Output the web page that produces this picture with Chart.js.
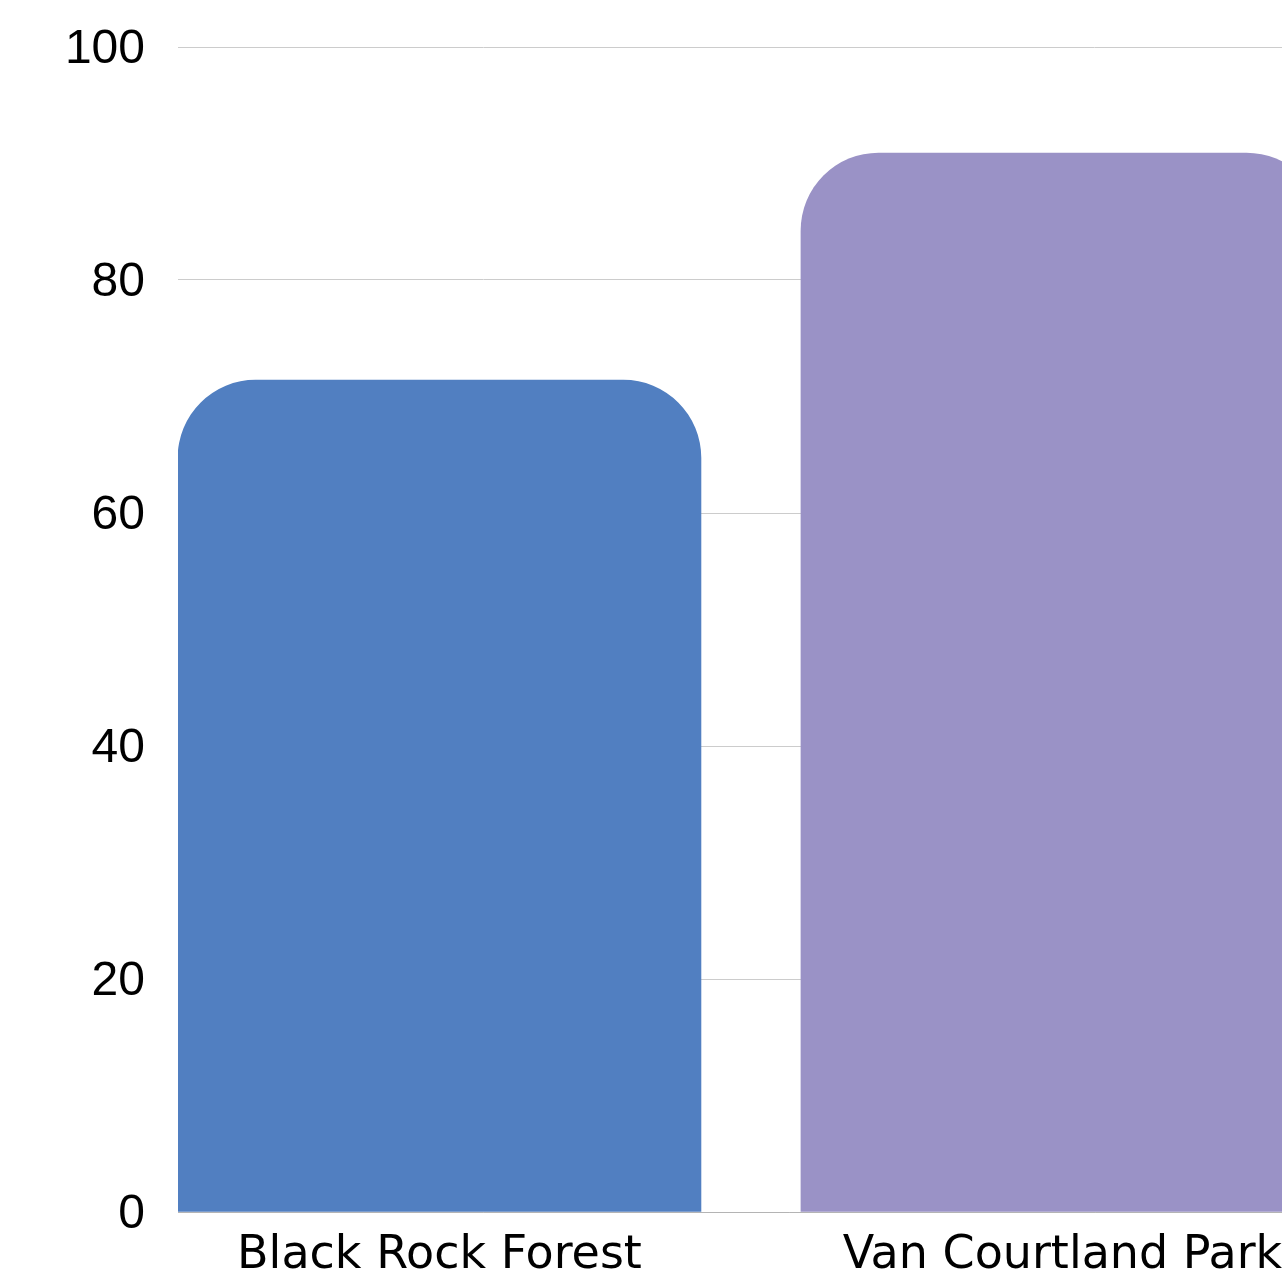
<!DOCTYPE html>
<html>
<head>
<meta charset="utf-8">
<script src="https://cdn.jsdelivr.net/npm/chart.js@4/dist/chart.umd.min.js"></script>
<style>
  html, body { margin: 0; padding: 0; background: #fff; overflow: hidden; }
  #wrap { width: 1400px; height: 1280px; }
</style>
</head>
<body>
<div id="wrap"><canvas id="chart" width="1400" height="1280"></canvas></div>
<script>
// ====== DADOS ======
const categories = ["Black Rock Forest", "Van Courtland Park"];
const positions = [0, 1];
const values = [71.4, 90.9];
const barColors = ["#517fc1", "#9a92c6"];
const yTicks = [0, 20, 40, 60, 80, 100];

const ctx = document.getElementById("chart");
new Chart(ctx, {
  type: "bar",
  data: {
    datasets: [
      {
        data: positions.map((p, i) => ({ x: p, y: values[i] })),
        backgroundColor: barColors,
        borderWidth: 0,
        borderSkipped: "bottom",
        borderRadius: { topLeft: 78, topRight: 78, bottomLeft: 0, bottomRight: 0 },
        barThickness: 523,
      },
    ],
  },
  options: {
    responsive: false,
    animation: false,
    layout: { padding: { top: 47, left: 0, right: 0, bottom: 0 } },
    plugins: { legend: { display: false }, tooltip: { enabled: false } },
    scales: {
      x: {
        type: "linear",
        offset: false,
        min: -0.4197,
        max: 1.5418,
        grid: { display: false, offset: false },
        border: { display: true, color: "#b4b4b4", width: 1 },
        afterBuildTicks: (scale) => {
          scale.ticks = positions.map((p) => ({ value: p }));
        },
        afterFit: (scale) => {
          scale.height = 68;
        },
        ticks: {
          autoSkip: false,
          maxRotation: 0,
          minRotation: 0,
          padding: 8,
          color: "#000",
          font: { family: "DejaVu Sans", size: 46 },
          callback: (v) => categories[positions.indexOf(v)],
        },
      },
      y: {
        min: 0,
        max: 100,
        afterBuildTicks: (scale) => {
          scale.ticks = yTicks.map((v) => ({ value: v }));
        },
        afterFit: (scale) => {
          scale.width = 178;
          // sem folga extra em cima, a area do grafico comeca no 100
          scale.paddingTop = 0;
          scale.paddingBottom = 0;
        },
        grid: { color: "#cccccc", lineWidth: 1, drawTicks: false },
        border: { display: false },
        ticks: {
          padding: 33,
          labelOffset: 3,
          color: "#000",
          font: { family: "Liberation Sans", size: 48 },
        },
      },
    },
  },
});
</script>
</body>
</html>
